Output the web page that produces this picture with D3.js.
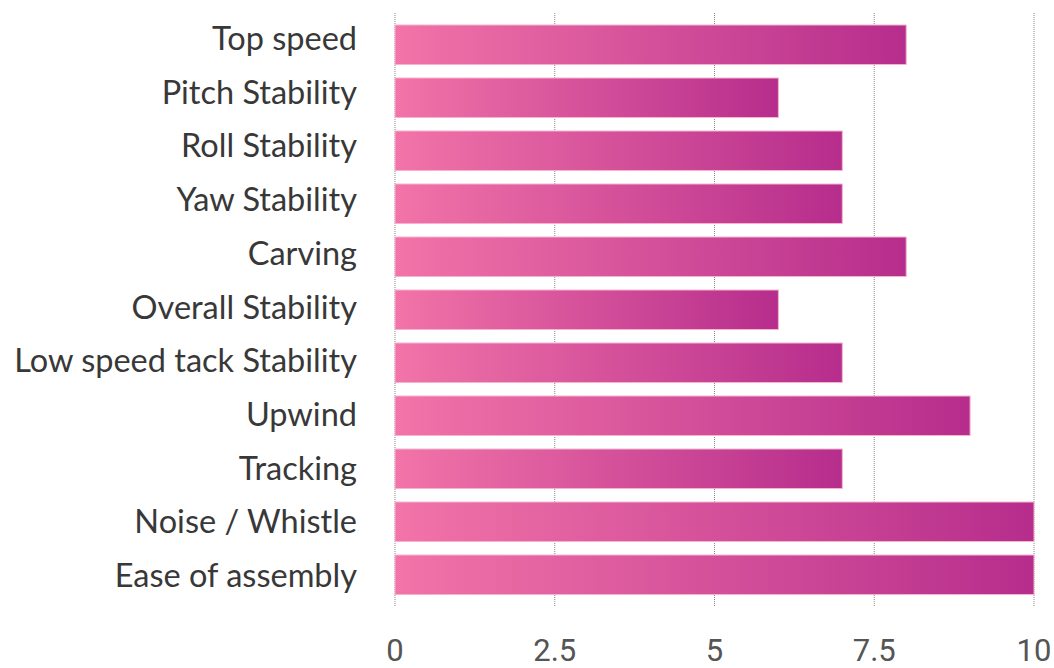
<!DOCTYPE html>
<html>
<head>
<meta charset="utf-8">
<script src="https://cdn.jsdelivr.net/npm/d3@7"></script>
<style>
  body { margin: 0; background: #fff; }
  .cat text { font-family: Lato, sans-serif; font-size: 32.5px; fill: #383838; }
  .ticks text { font-family: Roboto, sans-serif; font-size: 31px; fill: #555; }
</style>
</head>
<body>
<svg id="chart" width="1054" height="668"></svg>
<script>
var categories = ['Top speed', 'Pitch Stability', 'Roll Stability', 'Yaw Stability', 'Carving',
  'Overall Stability', 'Low speed tack Stability', 'Upwind', 'Tracking', 'Noise / Whistle', 'Ease of assembly'];
var scores = [8, 6, 7, 7, 8, 6, 7, 9, 7, 10, 10];
var tickValues = [0, 2.5, 5, 7.5, 10];
var tickLabels = ['0', '2.5', '5', '7.5', '10'];

var svg = d3.select('#chart');

var x = d3.scaleLinear().domain([0, 10]).range([395, 1034]);
var y = d3.scaleBand().domain(categories).range([25, 594.5]).paddingInner(0.255).paddingOuter(0).align(0);
// labels sit on a slightly wider step than the bars
var yLabel = d3.scalePoint().domain(categories).range([50, 587]);

var defs = svg.append('defs');
var grad = defs.append('linearGradient').attr('id', 'barGrad')
  .attr('x1', 0).attr('x2', 1).attr('y1', 0).attr('y2', 0);
grad.append('stop').attr('offset', '0%').attr('stop-color', '#f274a8');
grad.append('stop').attr('offset', '100%').attr('stop-color', '#b62d8c');

// dotted grid
svg.append('g').selectAll('line')
  .data(tickValues)
  .enter()
  .append('line')
  .attr('x1', function (d) { return x(d); })
  .attr('x2', function (d) { return x(d); })
  .attr('y1', 13)
  .attr('y2', 607)
  .attr('stroke', '#888')
  .attr('stroke-width', 1)
  .attr('stroke-dasharray', '1,1');

svg.append('g').selectAll('rect')
  .data(scores)
  .enter()
  .append('rect')
  .attr('x', x(0))
  .attr('y', function (d, i) { return y(categories[i]); })
  .attr('width', function (d) { return x(d) - x(0); })
  .attr('height', y.bandwidth())
  .attr('fill', 'url(#barGrad)')
  .attr('stroke', '#f6b3d0')
  .attr('stroke-width', 1);

svg.append('g').attr('class', 'cat').selectAll('text')
  .data(categories)
  .enter()
  .append('text')
  .attr('x', 357)
  .attr('y', function (d) { return yLabel(d); })
  .attr('text-anchor', 'end')
  .text(function (d) { return d; });

svg.append('g').attr('class', 'ticks').selectAll('text')
  .data(tickValues)
  .enter()
  .append('text')
  .attr('x', function (d) { return x(d); })
  .attr('y', 661)
  .attr('text-anchor', 'middle')
  .text(function (d, i) { return tickLabels[i]; });
</script>
</body>
</html>
